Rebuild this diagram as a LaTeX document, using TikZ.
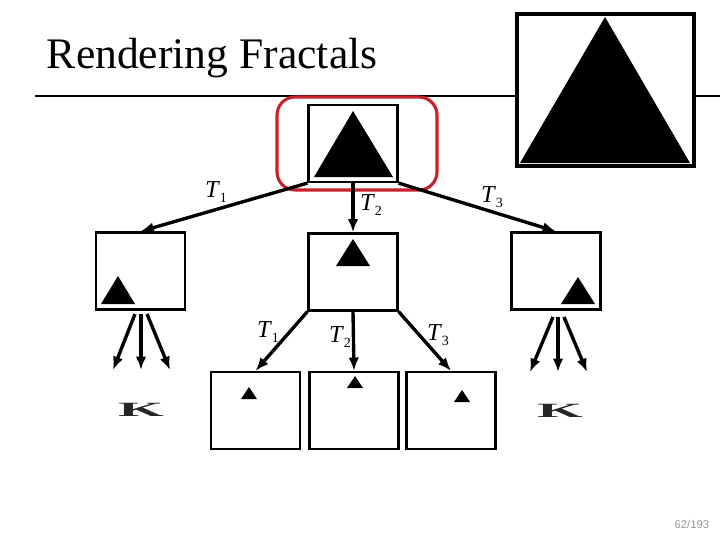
\documentclass[tikz,border=0pt]{standalone}
\usepackage{fontspec}
\setmainfont{Liberation Serif}
\newfontfamily\pagefont{Liberation Sans}
\usetikzlibrary{arrows.meta}
\definecolor{FrameRed}{RGB}{200,32,42}
\definecolor{PageGray}{RGB}{150,150,150}
\newcommand{\tmap}[1]{\textit{T}\raisebox{-0.45ex}{\normalsize #1}}
\tikzset{
  mapbox/.style={draw, fill=white, line width=1.7pt, minimum width=2.22cm,
    minimum height=1.92cm, inner sep=0pt},
  maparrow/.style={line width=2.4pt, -{Latex[length=9.5pt,width=7.5pt]}},
  maplabel/.style={font=\LARGE},
  dots/.style={font=\Large\bfseries, text=black!85, xscale=2.9}
}
\begin{document}
\begin{tikzpicture}[x=0.025cm, y=-0.025cm]
        \useasboundingbox (0,0) rectangle (720,540);
        % title and rule
        \node[anchor=base west, font=\fontsize{31}{36}\selectfont] (title) at (42,68) {Rendering Fractals};
        \draw[line width=0.8pt] (35,96) -- (720,96);
        % result
        \node[mapbox, line width=2.8pt, minimum width=4.42cm, minimum height=3.8cm] (result) at (605.5,90) {};
        \fill (605,17) -- (690,163) -- (520,163) -- cycle;
        % level 0
        \node[mapbox] (top) at (353,143.5) {};
        \fill (353,111) -- (393,177) -- (314,177) -- cycle;
        \draw[FrameRed, line width=2.2pt, rounded corners=0.45cm] (277,97) rectangle (437,190);
        % level 1
        \node[mapbox] (lbox) at (140.5,271) {};
        \fill (118,276) -- (135,304) -- (101,304) -- cycle;
        \node[mapbox] (mbox) at (353,272) {};
        \fill (353,239) -- (370,266) -- (336,266) -- cycle;
        \node[mapbox] (rbox) at (556,271) {};
        \fill (578,277) -- (595,304) -- (561,304) -- cycle;
        \draw[maparrow] (top.south west) -- (lbox.north);
        \draw[maparrow] (top.south) -- (mbox.north);
        \draw[maparrow] (top.south east) -- (rbox.north);
        \node[maplabel] (t1a) at (216,192) {\tmap{1}};
        \node[maplabel] (t2a) at (371,205) {\tmap{2}};
        \node[maplabel] (t3a) at (492,197) {\tmap{3}};
        % level 2
        \node[mapbox] (bl) at (255.5,410.5) {};
        \fill (249,387) -- (257,399) -- (241,399) -- cycle;
        \node[mapbox] (bm) at (354,410.5) {};
        \fill (355,376) -- (363,388) -- (347,388) -- cycle;
        \node[mapbox] (br) at (451,410.5) {};
        \fill (462,390) -- (470,402) -- (454,402) -- cycle;
        \draw[maparrow] (mbox.south west) -- (bl.north);
        \draw[maparrow] (mbox.south) -- (bm.north);
        \draw[maparrow] (mbox.south east) -- (br.north);
        \node[maplabel] (t1b) at (268,332) {\tmap{1}};
        \node[maplabel] (t2b) at (340,337) {\tmap{2}};
        \node[maplabel] (t3b) at (438,335) {\tmap{3}};
        % further branches
        \foreach \s/\e [count=\i] in {135/113, 141/141, 147/170} {
          \coordinate (lend\i) at (\e,370);
          \draw[maparrow] (\s,314) -- (lend\i);}
        \foreach \s/\e [count=\i] in {553/530, 558/558, 564/587} {
          \coordinate (rend\i) at (\e,372);
          \draw[maparrow] (\s,317) -- (rend\i);}
        \node[dots] (ldots) at (141,410) {K};
        \node[dots] (rdots) at (560,411) {K};
        % page number
        \node[anchor=east, font=\pagefont\footnotesize, text=PageGray] (page) at (714,524) {62/193};
      \end{tikzpicture}
\end{document}
